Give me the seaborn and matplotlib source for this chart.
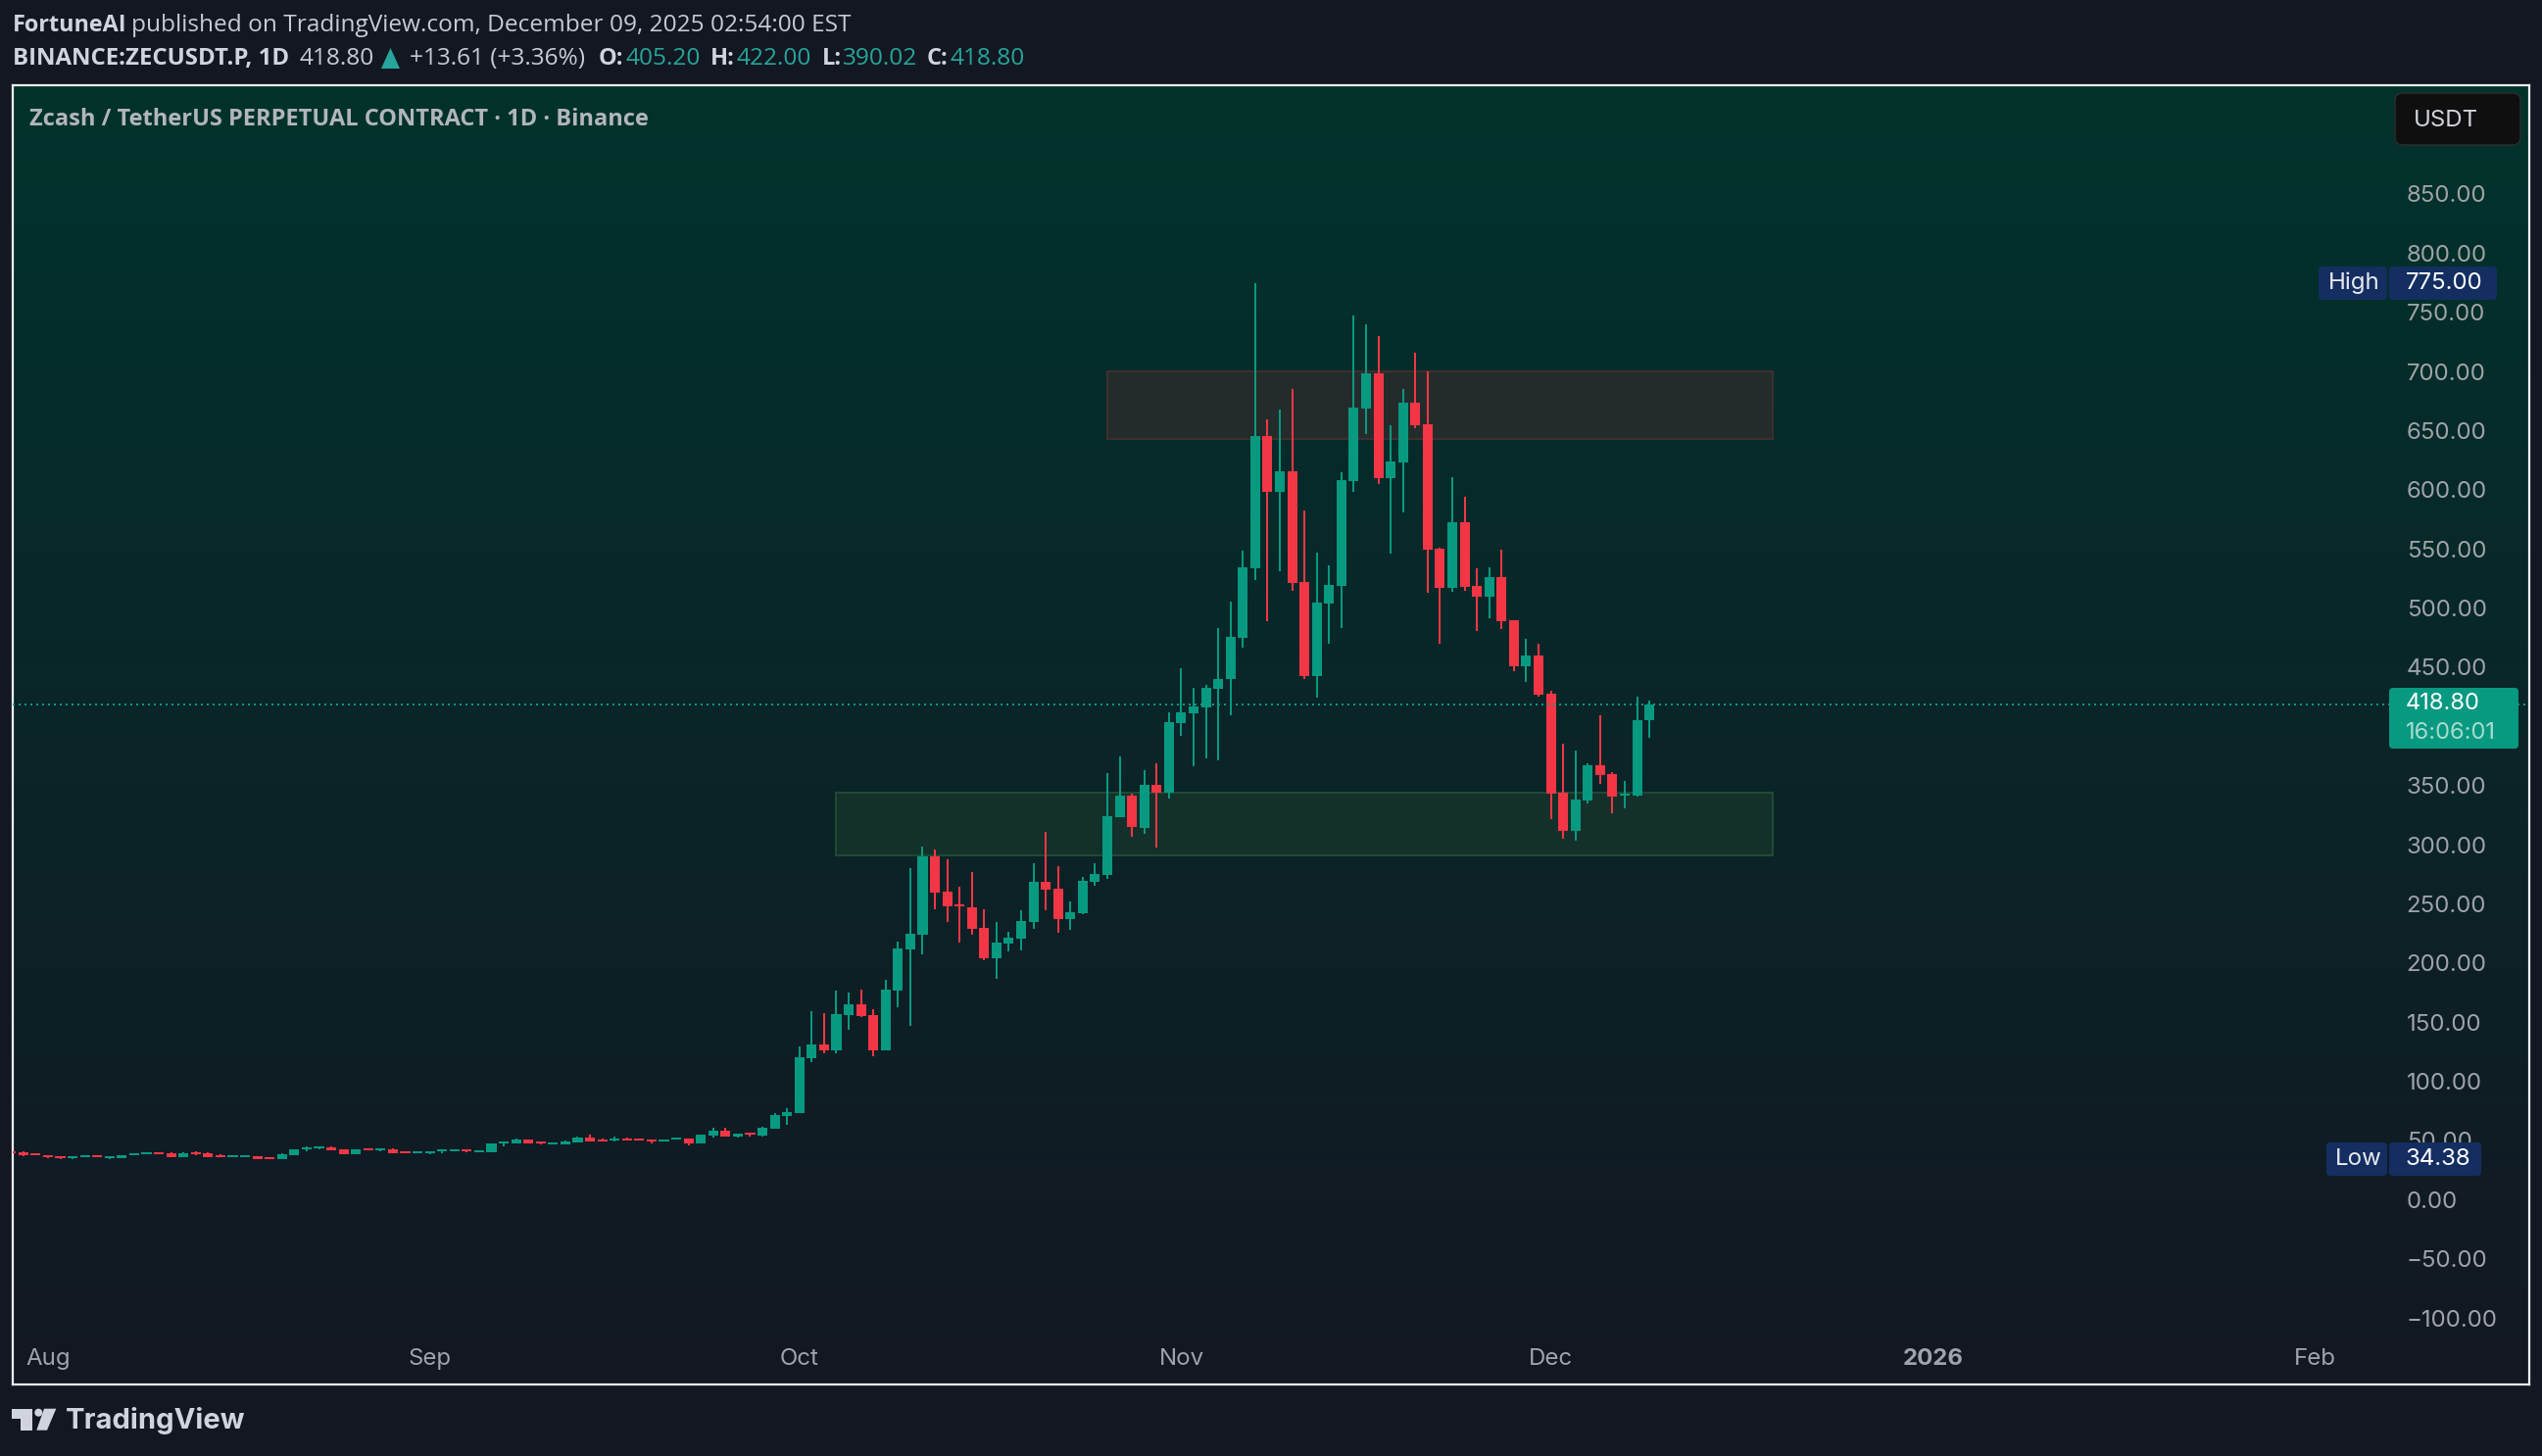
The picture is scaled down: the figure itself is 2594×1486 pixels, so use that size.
# ZEC/USDT daily candles, TradingView style chart
import numpy as np
import pandas as pd
import matplotlib.pyplot as plt
import seaborn as sns
from matplotlib.colors import LinearSegmentedColormap
from matplotlib.patches import Circle, FancyBboxPatch, Polygon, Rectangle

# days are counted from Aug 1 2025
first_day = -3

opens = [40.6, 40.0, 39.2, 37.5, 36.7, 35.0, 35.9, 37.5, 35.0, 35.0, 37.5, 38.3, 40.0, 39.2, 35.9, 40.0, 39.2, 37.5, 35.9, 35.9,
         36.7, 35.9, 34.4, 37.5, 42.5, 43.3, 44.1, 42.5, 38.3, 43.3, 41.7, 42.5, 40.8, 39.2, 39.2, 40.8, 40.8, 42.5, 40.0, 40.0,
         47.4, 47.4, 50.8, 49.1, 46.6, 46.6, 48.3, 52.4, 50.8, 49.9, 51.6, 51.6, 50.8, 49.1, 50.8, 51.6, 47.4, 54.1, 58.2, 53.3,
         56.6, 54.1, 59.9, 70.6, 73.4, 119.5, 131.1, 126.1, 155.9, 165.0, 155.9, 126.1, 176.6, 211.4, 223.8, 290.1, 260.3, 249.5, 247.0, 229.6,
         204.0, 216.4, 220.5, 234.6, 268.6, 262.8, 237.1, 242.1, 268.6, 274.4, 323.2, 341.5, 314.1, 350.6, 343.9, 402.8, 411.1, 416.0, 431.8, 440.1,
         474.9, 533.6, 645.5, 598.3, 615.6, 522.1, 442.6, 503.8, 518.7, 607.4, 668.6, 698.5, 609.9, 623.1, 673.6, 655.4, 550.2, 517.1, 572.6, 518.7,
         509.6, 526.2, 489.8, 450.8, 460.0, 427.7, 344.0, 311.7, 337.2, 367.0, 359.7, 341.6, 341.3, 405.2]
highs = [41.1, 40.8, 39.2, 37.5, 36.7, 36.7, 37.5, 37.5, 36.7, 37.5, 39.2, 40.0, 40.0, 40.0, 40.0, 40.8, 40.0, 38.3, 37.5, 37.5,
         36.7, 35.9, 39.2, 42.5, 45.0, 45.0, 45.0, 42.5, 42.5, 43.3, 43.3, 43.3, 40.8, 40.8, 40.8, 42.5, 42.5, 42.5, 41.7, 47.4,
         49.1, 51.6, 50.8, 49.1, 48.3, 49.9, 53.3, 54.9, 51.6, 53.3, 52.4, 51.6, 50.8, 50.8, 52.4, 51.6, 54.9, 60.7, 60.7, 55.7,
         56.6, 61.5, 73.1, 77.3, 129.4, 159.2, 157.6, 176.6, 175.0, 177.5, 160.9, 185.7, 218.0, 280.2, 298.4, 295.9, 287.6, 264.4, 276.9, 245.4,
         234.6, 226.3, 244.6, 284.3, 310.8, 281.8, 252.0, 272.7, 284.3, 360.5, 374.6, 343.1, 363.0, 368.8, 411.9, 449.2, 432.6, 435.1, 483.1, 505.5,
         548.6, 775.0, 659.5, 667.8, 685.2, 582.5, 546.9, 536.1, 614.8, 747.3, 739.9, 729.9, 654.6, 685.2, 715.9, 700.1, 551.0, 610.7, 594.1, 533.6,
         534.5, 549.3, 489.8, 473.8, 469.7, 430.0, 385.4, 379.5, 368.8, 409.4, 361.4, 353.7, 425.0, 422.0]
lows = [38.3, 36.7, 37.8, 35.0, 34.38, 34.4, 35.9, 35.9, 34.4, 35.0, 37.5, 38.3, 38.3, 35.9, 35.9, 37.5, 35.9, 35.9, 35.9, 35.9,
        34.4, 34.4, 34.4, 37.5, 40.8, 42.5, 41.7, 38.3, 38.3, 41.7, 40.8, 39.2, 39.2, 39.2, 38.3, 39.2, 40.8, 40.0, 40.0, 40.0,
        45.0, 47.4, 47.4, 46.6, 46.6, 46.6, 48.3, 49.1, 49.1, 49.1, 49.9, 49.9, 47.4, 49.1, 50.8, 45.8, 47.4, 52.4, 53.3, 52.4,
        53.3, 53.3, 59.9, 63.2, 73.4, 116.2, 123.6, 123.6, 143.5, 154.3, 121.1, 126.1, 162.6, 146.8, 207.3, 245.4, 234.6, 217.2, 223.8, 202.3,
        186.6, 209.8, 210.6, 228.8, 244.6, 225.5, 228.0, 241.2, 265.3, 271.1, 323.2, 306.7, 309.2, 297.6, 339.0, 392.0, 366.3, 372.9, 371.3, 409.4,
        466.6, 523.7, 488.9, 531.2, 514.6, 440.1, 424.3, 469.9, 483.1, 598.3, 647.1, 604.9, 546.1, 580.9, 652.1, 512.9, 469.9, 513.8, 514.6, 480.6,
        491.4, 482.1, 446.6, 437.5, 425.0, 321.5, 304.9, 303.0, 334.8, 351.4, 326.5, 330.7, 340.4, 390.02]
closes = [38.9, 37.5, 37.8, 35.9, 35.0, 36.7, 37.5, 35.9, 36.7, 37.5, 39.2, 40.0, 38.3, 35.9, 39.2, 38.3, 35.9, 35.9, 37.5, 37.5,
          34.4, 34.4, 38.3, 42.5, 44.1, 45.0, 41.7, 38.3, 42.5, 41.7, 43.3, 39.2, 39.2, 40.8, 40.8, 42.5, 42.5, 40.8, 41.7, 47.4,
          49.1, 50.8, 47.4, 47.4, 48.3, 49.1, 52.4, 49.1, 49.1, 51.6, 49.9, 49.9, 49.1, 50.8, 52.4, 47.4, 54.9, 58.2, 53.3, 55.7,
          54.9, 60.7, 71.5, 74.0, 120.3, 131.1, 126.1, 156.8, 165.0, 155.1, 126.1, 177.5, 212.3, 224.7, 290.1, 259.5, 247.9, 247.9, 228.8, 204.0,
          217.2, 221.4, 235.4, 268.6, 261.9, 237.1, 242.9, 269.4, 275.2, 324.1, 341.5, 314.9, 350.6, 343.9, 403.6, 411.9, 416.9, 432.6, 440.1, 475.7,
          534.5, 645.5, 598.3, 615.6, 521.2, 442.6, 504.7, 519.6, 608.2, 669.5, 698.5, 609.9, 623.9, 673.6, 654.6, 549.4, 517.1, 572.6, 517.9, 509.6,
          526.2, 488.9, 450.8, 460.0, 426.8, 343.1, 311.7, 338.0, 367.0, 358.8, 340.7, 343.1, 405.2, 418.80]

price_ticks = [850, 800, 750, 700, 650, 600, 550, 500, 450, 350, 300, 250, 200, 150, 100, 50, 0, -50, -100]
price_labels = ["850.00", "800.00", "750.00", "700.00", "650.00", "600.00", "550.00", "500.00", "450.00", "350.00",
                "300.00", "250.00", "200.00", "150.00", "100.00", "50.00", "0.00", "\u221250.00", "\u2212100.00"]
month_ticks = [0, 31, 61, 92, 122, 153, 184]
month_labels = ["Aug", "Sep", "Oct", "Nov", "Dec", "2026", "Feb"]

# resistance and support boxes: day start, day end, price low, price high
red_zone = [86.0, 140.0, 643.0, 700.1]
green_zone = [64.0, 140.0, 291.0, 344.0]

UP = "#089981"
DOWN = "#f23645"
PAGE = "#131722"
W, H = 2594, 1486

sns.set_theme(style="dark")
plt.rcParams["font.family"] = ["Inter", "DejaVu Sans"]

df = pd.DataFrame({"open": opens, "high": highs, "low": lows, "close": closes})
df["day"] = np.arange(first_day, first_day + len(df))
df["top"] = df[["open", "close"]].max(axis=1)
df["bot"] = df[["open", "close"]].min(axis=1)
df["body"] = (df["top"] - df["bot"]).clip(lower=1.7)
df["wick"] = df["high"] - df["low"]

fig = plt.figure(figsize=(W / 100, H / 100), dpi=100, facecolor=PAGE)
ax = fig.add_axes([13 / W, 1 - 1412.7 / H, (2580.7 - 13) / W, (1412.7 - 87) / H], zorder=1)

# background gradient
cmap = LinearSegmentedColormap.from_list("bg", ["#01332b", "#0a2528", "#131722"])
ax.imshow(np.linspace(0, 1, 256).reshape(-1, 1), cmap=cmap, extent=(0, 1, 0, 1), transform=ax.transAxes,
          aspect="auto", zorder=0)

ax.add_patch(Rectangle((green_zone[0], green_zone[2]), green_zone[1] - green_zone[0], green_zone[3] - green_zone[2],
                       facecolor="#14302a", edgecolor="#1f4a33", lw=1.5, zorder=1))
ax.add_patch(Rectangle((red_zone[0], red_zone[2]), red_zone[1] - red_zone[0], red_zone[3] - red_zone[2],
                       facecolor="#242c2b", edgecolor="#3f2e30", lw=1.5, zorder=1))

# candles: wicks then bodies, split by direction
for rows, color in [(df[df["close"] >= df["open"]], UP), (df[df["close"] < df["open"]], DOWN)]:
    sns.barplot(data=rows, x="day", y="wick", bottom=rows["low"].values, native_scale=True, width=0.16,
                color=color, saturation=1, errorbar=None, linewidth=0, zorder=3, ax=ax)
    sns.barplot(data=rows, x="day", y="body", bottom=rows["bot"].values, native_scale=True, width=0.8,
                color=color, saturation=1, errorbar=None, linewidth=0, zorder=4, ax=ax)

ax.axhline(closes[-1], color=UP, lw=1.44, ls=(0, (1, 2)), zorder=5)

ax.set_xlim(-2.86, 201.4)
ax.set_ylim(-156.0, 941.9)
ax.set_xlabel("")
ax.set_ylabel("")
ax.set_xticks(month_ticks)
ax.set_xticklabels(month_labels)
ax.set_yticks(price_ticks)
ax.set_yticklabels(price_labels, ha="left")
ax.yaxis.tick_right()
ax.tick_params(axis="y", length=0, pad=-90, labelsize=17.3, labelcolor="#a0a3aa")
ax.tick_params(axis="x", length=0, pad=-26.5, labelsize=17.3, labelcolor="#a0a3aa")
for lab in ax.get_xticklabels():
    if lab.get_text() == "2026":
        lab.set_fontweight("bold")
for side in ax.spines.values():
    side.set_color("#f0f3fa")
    side.set_linewidth(1.6)
    side.set_visible(True)
ax.grid(False)

# everything around the plot is placed in pixels on an overlay
ov = fig.add_axes([0, 0, 1, 1], zorder=2)
ov.set_xlim(0, W)
ov.set_ylim(H, 0)
ov.axis("off")


def put(x, y, s, color="#d1d4dc", size=17.6, family="Open Sans", **kw):
    ov.text(x, y, s, color=color, fontsize=size, family=family, va="center", ha=kw.pop("ha", "left"), **kw)


def pill(x0, y0, x1, y1, color, edge="none", rad=4):
    ov.add_patch(FancyBboxPatch((x0 + rad, y0 + rad), x1 - x0 - 2 * rad, y1 - y0 - 2 * rad,
                                boxstyle=f"round,pad={rad},rounding_size={rad}", facecolor=color, edgecolor=edge, lw=1))


# header lines
put(12.6, 26, "FortuneAI", fontweight="bold", size=16.8)
put(134, 26, "published on TradingView.com, December 09, 2025 02:54:00 EST", color="#c8cbd4")
put(12.6, 60, "BINANCE:ZECUSDT.P, 1D", fontweight="bold", size=17.3)
put(306, 60, "418.80", color="#c8cbd4")
ov.add_patch(Polygon([[389, 70], [408, 70], [398.5, 49]], facecolor="#26a69a", edgecolor="none"))
put(417.5, 60, "+13.61 (+3.36%)", color="#c8cbd4")
for x_name, x_val, name, val in [(611, 638.6, "O:", "405.20"), (725, 751, "H:", "422.00"),
                                 (838.6, 860, "L:", "390.02"), (946, 970, "C:", "418.80")]:
    put(x_name, 60, name, fontweight="bold", size=17)
    put(x_val, 60, val, color="#26a69a")

put(30, 122, "Zcash / TetherUS PERPETUAL CONTRACT \u00b7 1D \u00b7 Binance", color="#b2b5be", fontweight="bold", size=17)

# right side labels
pill(2444, 95, 2572, 148, "#0f0f0f", edge="#2e2e2e", rad=8)
put(2463, 123, "USDT", color="#d1d4dc", size=17.3, family="Inter")
pill(2366, 272, 2436, 306, "#142e61")
pill(2438, 272, 2548, 306, "#142e61")
put(2376, 289, "High", color="#e8eaf0", size=17.3, family="Inter")
put(2455, 289, "775.00", color="#ffffff", size=17.3, family="Inter")
pill(2374, 1166, 2436, 1200, "#142e61")
pill(2438, 1166, 2532, 1200, "#142e61")
put(2383, 1183, "Low", color="#e8eaf0", size=17.3, family="Inter")
put(2455, 1183, "34.38", color="#ffffff", size=17.3, family="Inter")
pill(2438, 702, 2570, 764, UP)
put(2455, 718, "418.80", color="#ffffff", size=17, family="Inter")
put(2455, 748, "16:06:01", color="#a8dccf", size=17, family="Inter")

# logo
LOGO = "#d1d4dc"
ov.add_patch(Polygon([[12, 1437.7], [32.7, 1437.7], [32.7, 1459.7], [21.3, 1459.7], [21.3, 1447.7], [12, 1447.7]],
                     facecolor=LOGO, edgecolor="none"))
ov.add_patch(Circle((39.3, 1441.7), 4, facecolor=LOGO, edgecolor="none"))
ov.add_patch(Polygon([[45, 1437.7], [57.3, 1437.7], [48, 1459.7], [37.3, 1459.7]], facecolor=LOGO, edgecolor="none"))
put(67, 1450, "TradingView", color=LOGO, size=21, family="Inter", fontweight="bold")

fig.savefig("out.png", dpi=100, facecolor=PAGE)
